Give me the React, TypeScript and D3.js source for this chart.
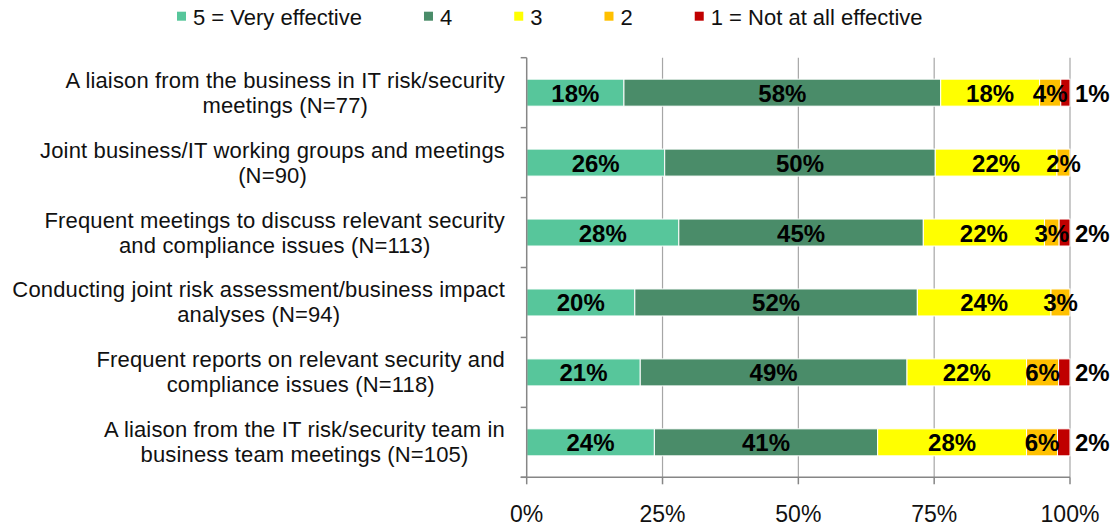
import React, { useEffect, useRef } from 'react';
import * as d3 from 'd3';

const categories: string[][] = [
  ["A liaison from the business in IT risk/security", "meetings (N=77)"],
  ["Joint business/IT working groups and meetings", "(N=90)"],
  ["Frequent meetings to discuss relevant security", "and compliance issues (N=113)"],
  ["Conducting joint risk assessment/business impact", "analyses (N=94)"],
  ["Frequent reports on relevant security and", "compliance issues (N=118)"],
  ["A liaison from the IT risk/security team in", "business team meetings (N=105)"],
];
const seriesNames = ["5 = Very effective", "4", "3", "2", "1 = Not at all effective"];
const seriesColors = ["#57C69B", "#4A8C69", "#FFFF00", "#FFC000", "#C00000"];

const s5 = [17.9, 25.4, 28.0, 19.9, 20.9, 23.5];
const s4 = [58.3, 49.8, 45.0, 52.0, 49.1, 41.1];
const s3 = [18.2, 22.4, 22.3, 24.6, 22.0, 27.4];
const s2 = [3.9, 2.4, 2.7, 3.5, 5.9, 5.7];
const s1 = [1.7, 0, 2.0, 0, 2.1, 2.3];

const l5 = ["18%", "26%", "28%", "20%", "21%", "24%"];
const l4 = ["58%", "50%", "45%", "52%", "49%", "41%"];
const l3 = ["18%", "22%", "22%", "24%", "22%", "28%"];
const l2 = ["4%", "2%", "3%", "3%", "6%", "6%"];
const l1 = ["1%", "", "2%", "", "2%", "2%"];

const xTicks = [0, 25, 50, 75, 100];
const xTickLabels = ["0%", "25%", "50%", "75%", "100%"];

const FONT = "'Liberation Sans', Arial, sans-serif";

export default function App() {
  const ref = useRef<SVGSVGElement>(null);
  useEffect(() => {
    const svg = d3.select(ref.current);
    svg.selectAll('*').remove();
    const left = 526.7, right = 1070, top = 57.7, bottom = 477.3;

    const keys = ["s5", "s4", "s3", "s2", "s1"];
    const vals = [s5, s4, s3, s2, s1];
    const labs = [l5, l4, l3, l2, l1];
    const table = categories.map((c, i) => {
      const row: any = { idx: i };
      keys.forEach((k, j) => (row[k] = vals[j][i]));
      return row;
    });
    const stacked = d3.stack().keys(keys)(table as any);

    const x = d3.scaleLinear().domain([0, 100]).range([left, right]);
    const y = d3.scaleBand<number>().domain(categories.map((_, i) => i)).range([top, bottom])
      .paddingInner(0.614).paddingOuter(0.307);
    const step = y.step();

    const g = svg.append('g');
    // gridlines
    g.selectAll('line.grid').data(xTicks.filter(t => t > 0)).enter().append('line')
      .attr('x1', d => x(d)).attr('x2', d => x(d)).attr('y1', top).attr('y2', bottom)
      .attr('stroke', '#A6A6A6').attr('stroke-width', 1.2);

    // bars
    stacked.forEach((layer, j) => {
      g.selectAll(null).data(layer).enter().append('rect')
        .attr('x', d => x(d[0]))
        .attr('y', (d, i) => y(i)!)
        .attr('width', d => Math.max(0, x(d[1]) - x(d[0])))
        .attr('height', y.bandwidth())
        .attr('fill', seriesColors[j])
        .attr('stroke', d => (d[1] - d[0] > 0 ? '#fff' : 'none'))
        .attr('stroke-width', 1);
    });

    // axes
    g.append('line').attr('x1', left).attr('x2', left).attr('y1', top).attr('y2', bottom)
      .attr('stroke', '#868686').attr('stroke-width', 1.5);
    g.append('line').attr('x1', left - 6).attr('x2', right).attr('y1', bottom).attr('y2', bottom)
      .attr('stroke', '#868686').attr('stroke-width', 1.5);
    for (let i = 0; i <= categories.length; i++) {
      const yy = top + i * step;
      g.append('line').attr('x1', left - 6).attr('x2', left).attr('y1', yy).attr('y2', yy)
        .attr('stroke', '#868686').attr('stroke-width', 1.5);
    }
    g.selectAll('line.xt').data(xTicks).enter().append('line')
      .attr('x1', d => x(d)).attr('x2', d => x(d)).attr('y1', bottom).attr('y2', bottom + 7)
      .attr('stroke', '#868686').attr('stroke-width', 1.5);
    g.selectAll('text.xl').data(xTicks).enter().append('text')
      .attr('x', d => x(d)).attr('y', 522).attr('text-anchor', 'middle')
      .attr('font-family', FONT).attr('font-size', 23).attr('fill', '#111')
      .text((d, i) => xTickLabels[i]);

    // bar labels
    stacked.forEach((layer, j) => {
      layer.forEach((d, i) => {
        const txt = labs[j][i];
        if (!txt) return;
        const cy = y(i)! + y.bandwidth() / 2 + 9;
        const t = g.append('text').attr('y', cy)
          .attr('font-family', FONT).attr('font-size', 24).attr('font-weight', 'bold')
          .attr('fill', '#000').text(txt);
        if (j === 4) t.attr('x', x(100) + 5).attr('text-anchor', 'start');
        else t.attr('x', (x(d[0]) + x(d[1])) / 2).attr('text-anchor', 'middle');
      });
    });

    // category labels
    categories.forEach((lines, i) => {
      const cy = y(i)! + y.bandwidth() / 2;
      const tg = g.append('g');
      const ts = lines.map((ln, k) =>
        tg.append('text').attr('y', cy - 5 + k * 25)
          .attr('font-family', FONT).attr('font-size', 22).attr('letter-spacing', 0.15)
          .attr('text-anchor', 'middle').attr('fill', '#111').text(ln));
      const widths = ts.map(t => (t.node() as SVGTextElement).getComputedTextLength());
      const bw = Math.max(...widths);
      ts.forEach(t => t.attr('x', 505 - bw / 2));
    });

    // legend
    let lx = 177;
    seriesNames.forEach((name, j) => {
      g.append('rect').attr('x', lx).attr('y', 11.7).attr('width', 9).attr('height', 9)
        .attr('fill', seriesColors[j]);
      const t = g.append('text').attr('x', lx + 16).attr('y', 24.5)
        .attr('font-family', FONT).attr('font-size', 22).attr('fill', '#111').text(name);
      const w = (t.node() as SVGTextElement).getComputedTextLength();
      lx = lx + 16 + w + 62;
    });
  }, []);
  return (
    <svg ref={ref} width={1117} height={529}
      style={{ position: 'absolute', left: 0, top: 0, background: '#fff' }} />
  );
}
